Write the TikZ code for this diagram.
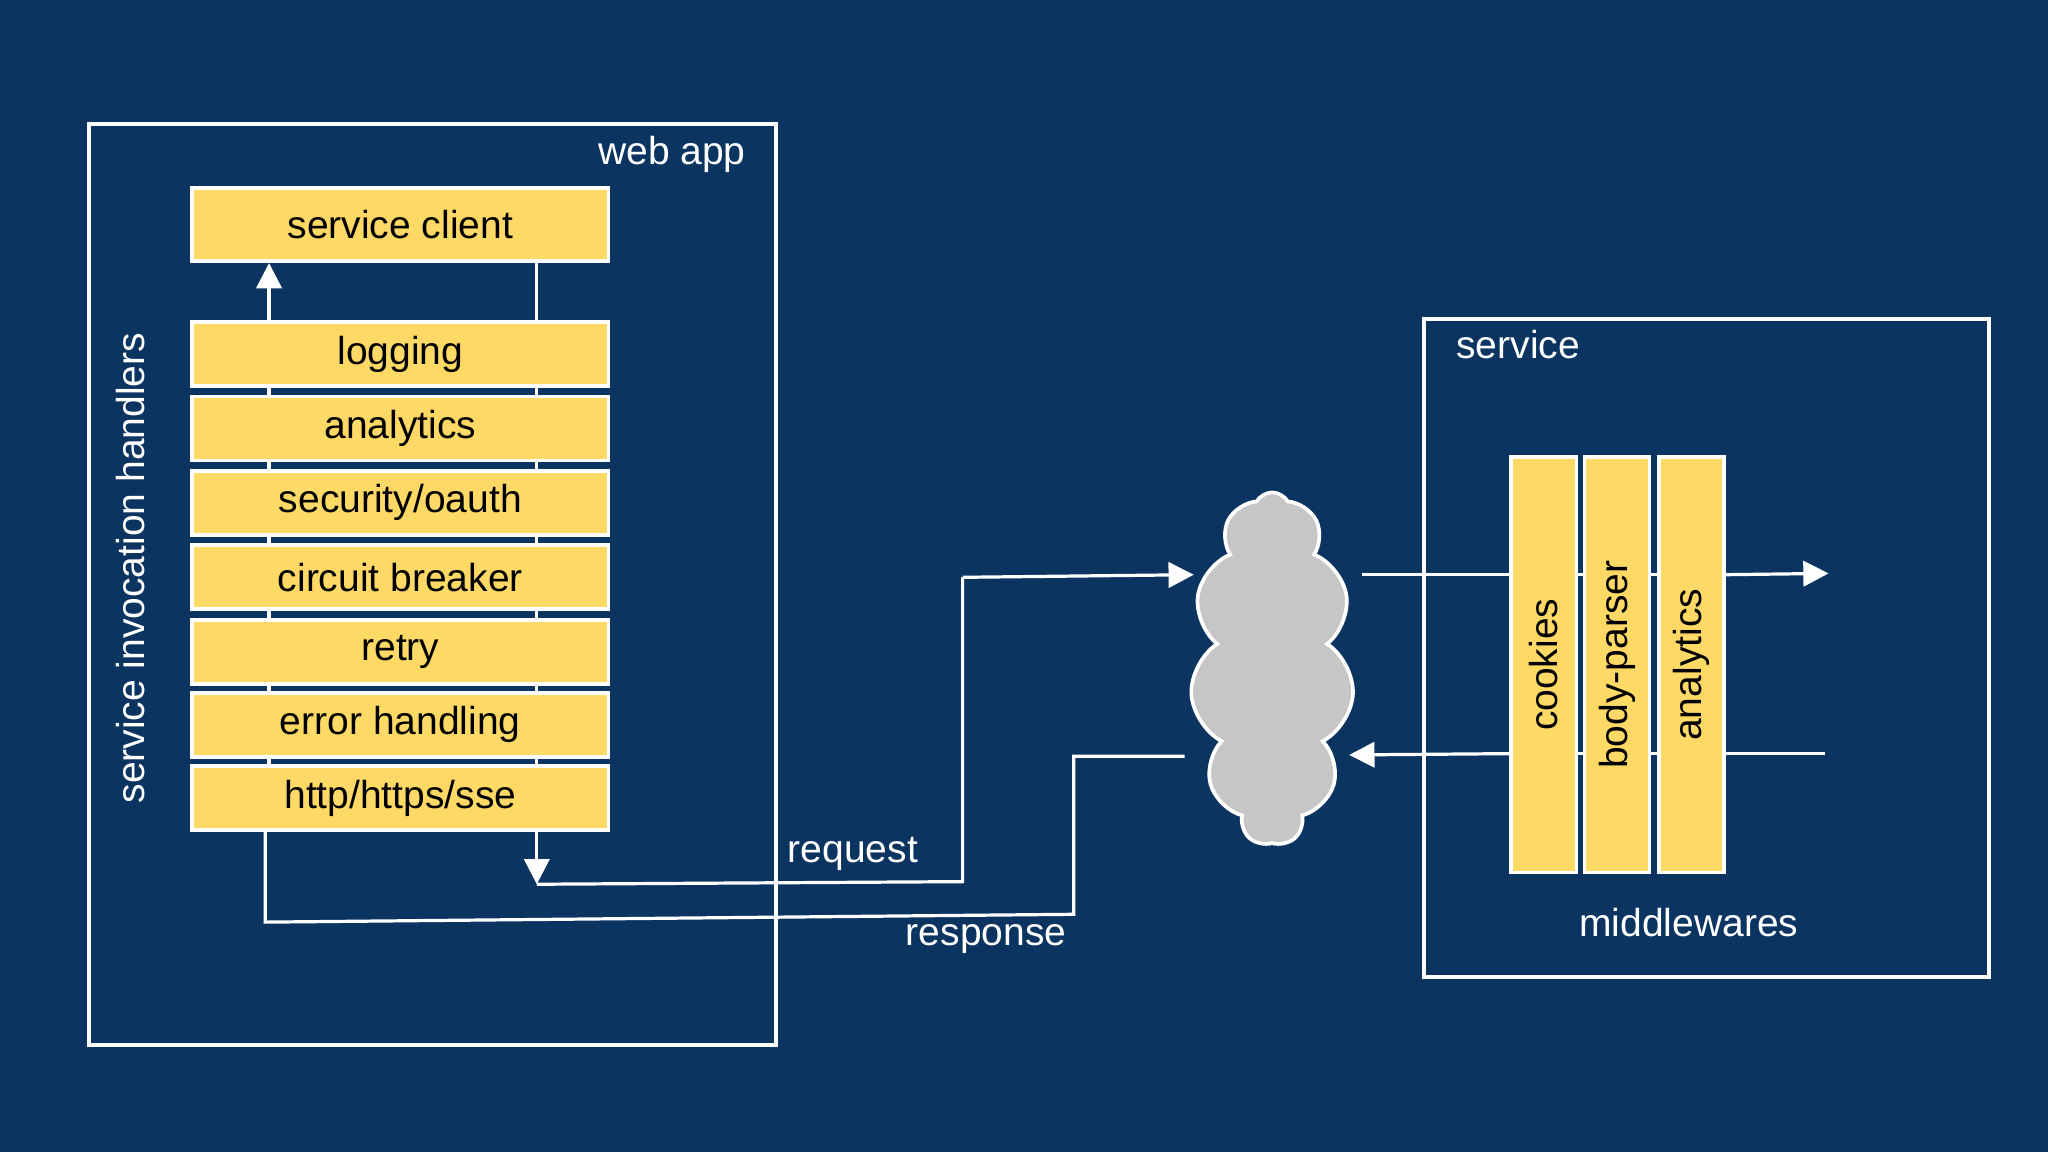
\documentclass[tikz,border=0pt]{standalone}
\usepackage{fontspec}
\setmainfont{Liberation Sans}
\usetikzlibrary{arrows.meta,shapes.symbols}
\definecolor{bg}{HTML}{0B3461}
\definecolor{yel}{HTML}{FFD966}
\begin{document}
\begin{tikzpicture}[x=0.02cm,y=-0.02cm,
  line width=1.4pt,
  wire/.style={white,line width=1.4pt},
  arr/.style={wire,-{Triangle[width=11pt,length=11pt]}},
  frame/.style={draw=white,line width=1.6pt},
  layer/.style={draw=white,fill=yel,line width=1.6pt,minimum width=319*0.02cm,minimum height=49*0.02cm,font=\fontsize{17}{20}\selectfont,text=black},
  col/.style={draw=white,fill=yel,line width=1.6pt,minimum width=318*0.02cm,minimum height=50*0.02cm,rotate=90,font=\fontsize{17}{20}\selectfont,text=black},
  lbl/.style={text=white,font=\fontsize{17}{20}\selectfont}]
\fill[bg] (0,0) rectangle (1568,882);
\useasboundingbox (0,0) rectangle (1568,882);
\draw[frame] (68,95) rectangle (594,800);
\node[lbl,anchor=east] (wa) at (578,118) {web app};
\node[lbl,rotate=90] (sih) at (100,435) {service invocation handlers};
\node[layer,minimum height=56*0.02cm] (sc) at (306.5,172) {service client};
\node[layer] (l1) at (306.5,271) {logging};
\node[layer] (l2) at (306.5,328) {analytics};
\node[layer] (l3) at (306.5,385) {security/oauth};
\node[layer] (l4) at (306.5,442) {circuit breaker};
\node[layer] (l5) at (306.5,499) {retry};
\node[layer] (l6) at (306.5,555) {error handling};
\node[layer] (l7) at (306.5,611) {http/https/sse};
\foreach \a/\b in {l1/l2,l2/l3,l3/l4,l4/l5,l5/l6,l6/l7}{
  \draw[wire] (\a.south -| 206,0) -- (\b.north -| 206,0);
  \draw[wire] (\a.south -| 411,0) -- (\b.north -| 411,0);}
\draw[arr] (l1.north -| 206,0) -- (sc.south -| 206,0);
\draw[wire] (sc.south -| 411,0) -- (l1.north -| 411,0);
% cloud
\node[cloud,cloud puffs=11,cloud puff arc=120,aspect=0.5,draw=white,fill=gray!45!white,line width=1.6pt,minimum width=125*0.02cm,minimum height=270*0.02cm,inner sep=0pt] (cl) at (974,512) {};
% request
\coordinate (r1) at (411,677);
\coordinate (r2) at (737,675);
\coordinate (r3) at (737,442);
\coordinate (r4) at (914,440);
\draw[arr] (l7.south -| 411,0) -- (r1);
\draw[wire] (r1) -- (r2) -- (r3);
\draw[arr] (r3) -- (r4);
\node[lbl] (req) at (653,654) {request};
% response
\coordinate (s1) at (203,706);
\coordinate (s2) at (822,700);
\coordinate (s3) at (822,579);
\coordinate (s4) at (907,579);
\draw[wire] (l7.south -| 203,0) -- (s1) -- (s2) -- (s3) -- (s4);
\node[lbl] (resp) at (755,719) {response};
% service
\draw[frame] (1090,244) rectangle (1523,748);
\node[lbl,anchor=west] (sv) at (1108,264) {service};
\node[col] (m1) at (1182,509) {cookies};
\node[col] (m2) at (1238,509) {body-parser};
\node[col] (m3) at (1295,509) {analytics};
\node[lbl] (mw) at (1293,706) {middlewares};
\coordinate (a1) at (1043,440);
\coordinate (a2) at (1400,439);
\coordinate (b1) at (1397,577);
\coordinate (b2) at (1033,578);
\draw[wire] (a1) -- (m1.north |- a1);
\draw[wire] (m1.south |- a1) -- (m2.north |- a1);
\draw[wire] (m2.south |- a1) -- (m3.north |- a1);
\draw[arr] (m3.south |- a1) -- (a2);
\draw[wire] (b1) -- (m3.south |- b1);
\draw[wire] (m3.north |- b1) -- (m2.south |- b1);
\draw[wire] (m2.north |- b1) -- (m1.south |- b1);
\draw[arr] (m1.north |- b1) -- (b2);
\end{tikzpicture}
\end{document}
